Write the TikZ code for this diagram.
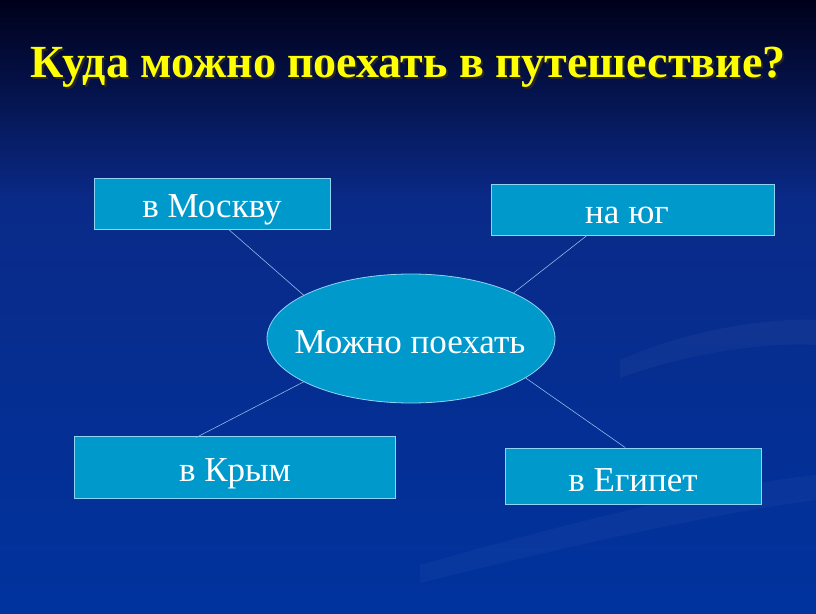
\documentclass[tikz,border=0pt]{standalone}
\usepackage{fontspec}
\setmainfont{Liberation Serif}
\usetikzlibrary{shapes.geometric,calc}
\definecolor{bgtop}{HTML}{00001A}
\definecolor{bgmid}{HTML}{0A2A88}
\definecolor{bgbot}{HTML}{00339E}
\definecolor{boxfill}{HTML}{0099CC}
\definecolor{boxline}{HTML}{8FD3F5}
\definecolor{conn}{HTML}{8FB8E8}
\definecolor{titley}{HTML}{FFFF00}
\tikzset{
  x=1pt,y=-1pt,
  stepbox/.style={draw=boxline,line width=0.8pt,fill=boxfill,inner sep=0pt},
  hub/.style={ellipse,draw=boxline,line width=0.8pt,fill=boxfill,inner sep=0pt,
    minimum width=288pt,minimum height=129pt},
  lbl/.style={anchor=base,text=white,inner sep=0pt,font=\fontsize{35}{35}\selectfont},
  link/.style={draw=conn,line width=0.6pt},
  titletext/.style={anchor=base,inner sep=0pt,font=\fontsize{46}{46}\selectfont\bfseries}
}
\newcommand{\titlestr}{Куда можно поехать в путешествие?}
\begin{document}
\begin{tikzpicture}
\useasboundingbox (0,0) rectangle (816,613);
\shade[top color=bgtop,bottom color=bgmid] (0,0) rectangle (816,200);
\shade[top color=bgmid,bottom color=bgbot] (0,200) rectangle (816,613);
% faint swooshes
\fill[white,opacity=0.035] (620,360) .. controls (700,325) and (780,318) .. (816,320) -- (816,345) .. controls (770,342) and (690,352) .. (620,378) -- cycle;
\fill[white,opacity=0.03] (420,565) .. controls (560,525) and (720,485) .. (816,475) -- (816,500) .. controls (720,512) and (560,548) .. (420,583) -- cycle;
% title with shadow
\node[titletext] (title) at (408,77) {\makebox[0pt][l]{\raisebox{-2pt}{\hspace{2pt}\color{black!85}\titlestr}}\color{titley}\titlestr};
% boxes
\node[stepbox,minimum width=236pt,minimum height=51pt] (moscow) at (212,203.5) {};
\node[stepbox,minimum width=283pt,minimum height=51pt] (south) at (632.5,209.5) {};
\node[stepbox,minimum width=321pt,minimum height=62pt] (crimea) at (234.5,467) {};
\node[stepbox,minimum width=256pt,minimum height=56pt] (egypt) at (633,476) {};
\node[hub] (hubnode) at (411,338.5) {};
% labels
\node[lbl] (moscowt) at (212,217) {в Москву};
\node[lbl] (southt) at (627,223) {на юг};
\node[lbl] (crimeat) at (235,481) {в Крым};
\node[lbl] (egyptt) at (633,491) {в Египет};
\node[lbl] (hubt) at (410,353) {Можно поехать};
% connectors
\draw[link] ($(moscow.south west)!0.57!(moscow.south east)$) -- (hubnode.158);
\draw[link] ($(south.south west)!0.34!(south.south east)$) -- (hubnode.24.5);
\draw[link] ($(crimea.north west)!0.38!(crimea.north east)+(0,2)$) -- (hubnode.202.5);
\draw[link] ($(egypt.north west)!0.47!(egypt.north east)$) -- (hubnode.341);
\end{tikzpicture}
\end{document}
